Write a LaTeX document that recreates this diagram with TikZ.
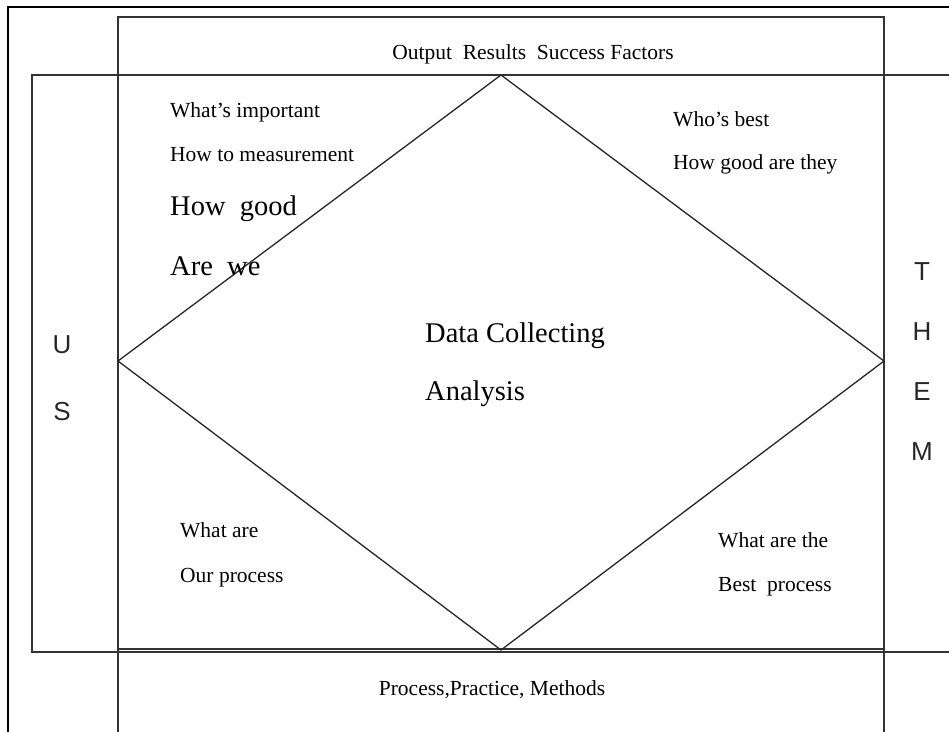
\documentclass[tikz,border=0pt]{standalone}
\usepackage{fontspec}
\setmainfont{Liberation Serif}
\setsansfont{Liberation Sans}
\begin{document}
\begin{tikzpicture}[x=1pt,y=-1pt,
  frame/.style={line width=2.6pt,black},
  boxline/.style={line width=1.4pt,black!80},
  diam/.style={line width=1.3pt,black!85},
  small/.style={inner sep=0pt,font=\fontsize{21.5}{25}\selectfont},
  large/.style={inner sep=0pt,font=\fontsize{28.5}{33}\selectfont},
  side/.style={inner sep=0pt,font=\sffamily\fontsize{26}{30}\selectfont,text=black!85}]
\useasboundingbox (0,0) rectangle (949,731);
\clip (0,0) rectangle (949,731);

% outer frame (top and left edges in view)
\draw[frame] (8,740) -- (8,7) -- (960,7);

% vertical band: output results / process
\draw[boxline] (118,740) -- (118,17) -- (884,17) -- (884,740);
% horizontal band: us / them
\draw[boxline] (960,75) -- (32,75) -- (32,652) -- (960,652);
\draw[boxline] (118,649) -- (884,649);

% central diamond
\coordinate (dtop) at (501,75);
\coordinate (dright) at (884,361);
\coordinate (dbottom) at (501,650);
\coordinate (dleft) at (118,361);
\draw[diam] (dtop) -- (dright) -- (dbottom) -- (dleft) -- cycle;

% band labels
\node[small,anchor=base] (out) at (533,59) {Output\ \ Results\ \ Success Factors};
\node[small,anchor=base] (proc) at (492,695) {Process,Practice, Methods};

% upper left
\node[small,anchor=base west] (imp) at (170,117) {What’s important};
\node[small,anchor=base west] (meas) at (170,161) {How to measurement};
\node[large,anchor=base west] (hg) at (170,215) {How\ \ good};
\node[large,anchor=base west] (aw) at (170,275) {Are\ \ we};

% upper right
\node[small,anchor=base west] (wb) at (673,126) {Who’s best};
\node[small,anchor=base west] (hgt) at (673,169) {How good are they};

% centre
\node[large,anchor=base west] (dc) at (425,342) {Data Collecting};
\node[large,anchor=base west] (an) at (425,400) {Analysis};

% lower left
\node[small,anchor=base west] (wa) at (180,537) {What are};
\node[small,anchor=base west] (op) at (180,582) {Our process};

% lower right
\node[small,anchor=base west] (wat) at (718,547) {What are the};
\node[small,anchor=base west] (bp) at (718,591) {Best\ \ process};

% side letters
\node[side,anchor=base] (u) at (62,353) {U};
\node[side,anchor=base] (s) at (62,420) {S};
\node[side,anchor=base] (t) at (922,280) {T};
\node[side,anchor=base] (h) at (922,340) {H};
\node[side,anchor=base] (e) at (922,400) {E};
\node[side,anchor=base] (m) at (922,460) {M};
\end{tikzpicture}
\end{document}
